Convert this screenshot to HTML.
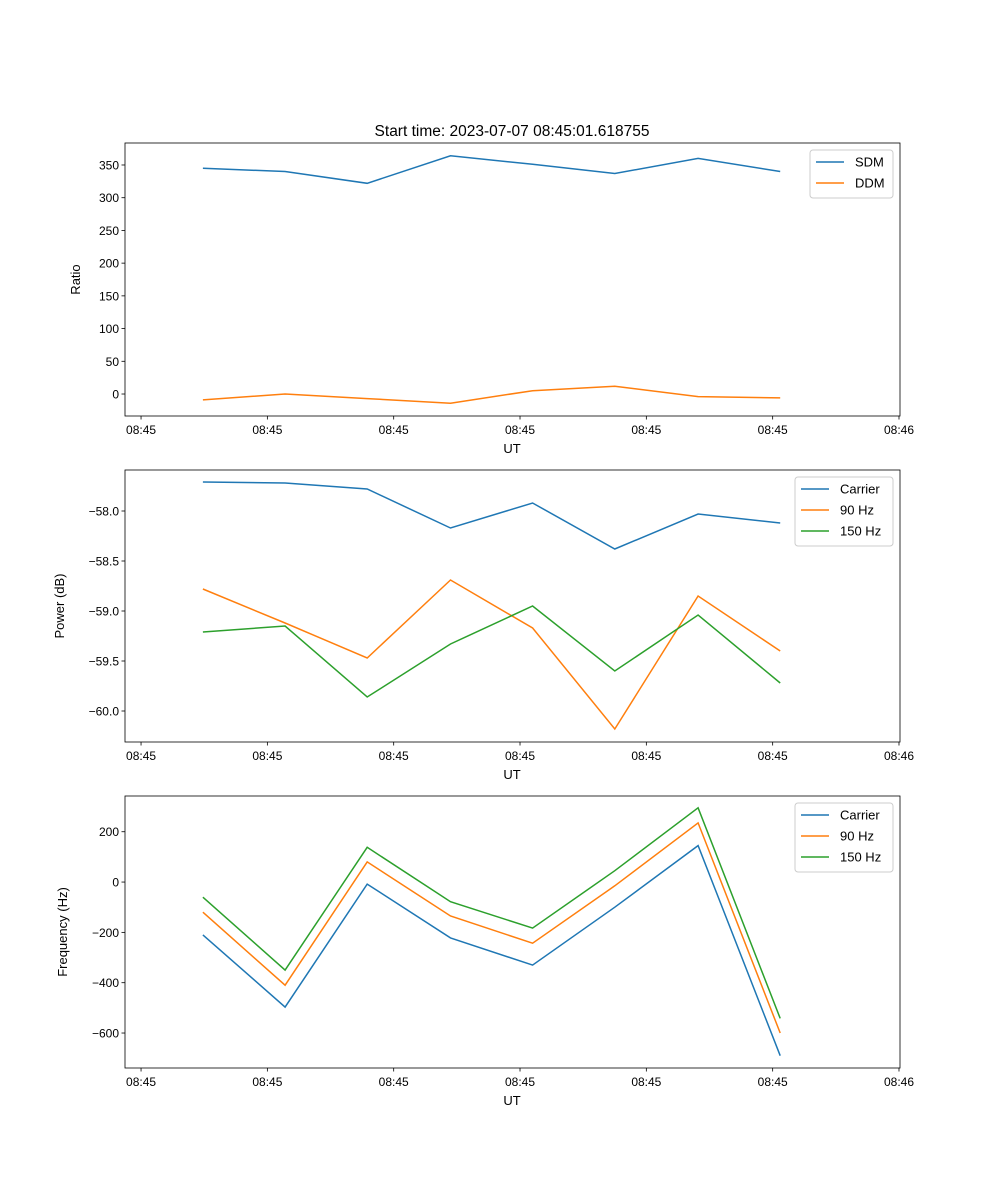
<!DOCTYPE html>
<html><head><meta charset="utf-8"><style>body{margin:0;background:#fff}svg{display:block;font-family:"Liberation Sans","DejaVu Sans",sans-serif}</style></head>
<body>
<svg id="fig" width="1000" height="1200" viewBox="0 0 1000 1200">
<text x="512" y="136" font-size="15.5" text-anchor="middle">Start time: 2023-07-07 08:45:01.618755</text>
</svg>
<script>
const times=[4.9,11.4,17.9,24.5,31.0,37.5,44.1,50.6];
const xTicks=[0,10,20,30,40,50,60];
const xTickLabels=["08:45","08:45","08:45","08:45","08:45","08:45","08:46"];
const sdm=[345,340,322,364,351,337,360,340];
const ddm=[-9,0,-7,-14,5,12,-4,-6];
const powCarrier=[-57.71,-57.72,-57.78,-58.17,-57.92,-58.38,-58.03,-58.12];
const pow90=[-58.78,-59.12,-59.47,-58.69,-59.17,-60.18,-58.85,-59.40];
const pow150=[-59.21,-59.15,-59.86,-59.33,-58.95,-59.60,-59.04,-59.72];
const freqCarrier=[-210,-497,-8,-222,-330,-100,145,-690];
const freq90=[-120,-410,80,-135,-243,-15,235,-600];
const freq150=[-60,-350,138,-78,-183,45,295,-542];
const ratioTicks=[0,50,100,150,200,250,300,350];
const powTicks=[-60.0,-59.5,-59.0,-58.5,-58.0];
const freqTicks=[-600,-400,-200,0,200];

const NS="http://www.w3.org/2000/svg";
const svg=document.getElementById('fig');
function mk(tag,attrs,parent){const e=document.createElementNS(NS,tag);for(const k in attrs)e.setAttribute(k,attrs[k]);(parent||svg).appendChild(e);return e;}
const L=125,R=900;
const xMin=-1.27,xMax=60.08;
function xs(v){return L+(v-xMin)/(xMax-xMin)*(R-L);}
const C=['#1f77b4','#ff7f0e','#2ca02c'];

function panel(name,top,bot,yMin,yMax,yTicks,fmt,ylabel,ylabelX,series,names,leg){
  const g=mk('g',{});
  
  
  const ys=v=>bot-(v-yMin)/(yMax-yMin)*(bot-top);
  series.forEach((s,i)=>{
    const p=mk('polyline',{points:s.map((v,j)=>xs(times[j]).toFixed(1)+','+ys(v).toFixed(1)).join(' '),fill:'none',stroke:C[i],'stroke-width':1.5},g);
    
    
  });
  const fr=mk('rect',{x:L,y:top,width:R-L,height:bot-top,fill:'none',stroke:'#000','stroke-width':0.8},g);
  
  
  xTicks.forEach((t,i)=>{
    const x=xs(t);
    mk('line',{x1:x,x2:x,y1:bot,y2:bot+3.5,stroke:'#000','stroke-width':0.8},g);
    const tx=mk('text',{x:x,y:bot+18,'font-size':12,'text-anchor':'middle'},g);
    tx.textContent=xTickLabels[i];
    
    
  });
  yTicks.forEach(t=>{
    const y=ys(t);
    mk('line',{x1:L,x2:L-3.5,y1:y,y2:y,stroke:'#000','stroke-width':0.8},g);
    const tx=mk('text',{x:L-6,y:y+4.5,'font-size':12,'text-anchor':'end'},g);
    tx.textContent=fmt(t);
    
    
  });
  const xl=mk('text',{x:512,y:bot+37,'font-size':13,'text-anchor':'middle'},g);
  xl.textContent='UT';
  
  
  const cy=(top+bot)/2;
  const yl=mk('text',{x:ylabelX,y:cy,'font-size':13,'text-anchor':'middle',transform:'rotate(-90 '+ylabelX+' '+cy+')'},g);
  yl.textContent=ylabel;
  
  
  const lg=mk('g',{},g);
  
  
  mk('rect',{x:leg,y:top+7,width:893-leg,height:names.length*21+6,rx:3,fill:'#fff',stroke:'#ccc','stroke-width':1},lg);
  names.forEach((n,i)=>{
    const y=top+19+i*21;
    mk('line',{x1:leg+6,x2:leg+34,y1:y,y2:y,stroke:C[i],'stroke-width':1.5},lg);
    const t=mk('text',{x:leg+45,y:y+4.5,'font-size':13},lg);
    t.textContent=n;
    
    
  });
}
const minus=s=>s.replace('-','\u2212');
panel('ratio',143,416,-33.6,383.6,ratioTicks,t=>minus(String(t)),'Ratio',80,[sdm,ddm],['SDM','DDM'],810);
panel('power',470,742,-60.31,-57.59,powTicks,t=>minus(t.toFixed(1)),'Power (dB)',64,[powCarrier,pow90,pow150],['Carrier','90 Hz','150 Hz'],795);
panel('frequency',796,1068,-739,342,freqTicks,t=>minus(String(t)),'Frequency (Hz)',67,[freqCarrier,freq90,freq150],['Carrier','90 Hz','150 Hz'],795);
</script>
</body></html>
